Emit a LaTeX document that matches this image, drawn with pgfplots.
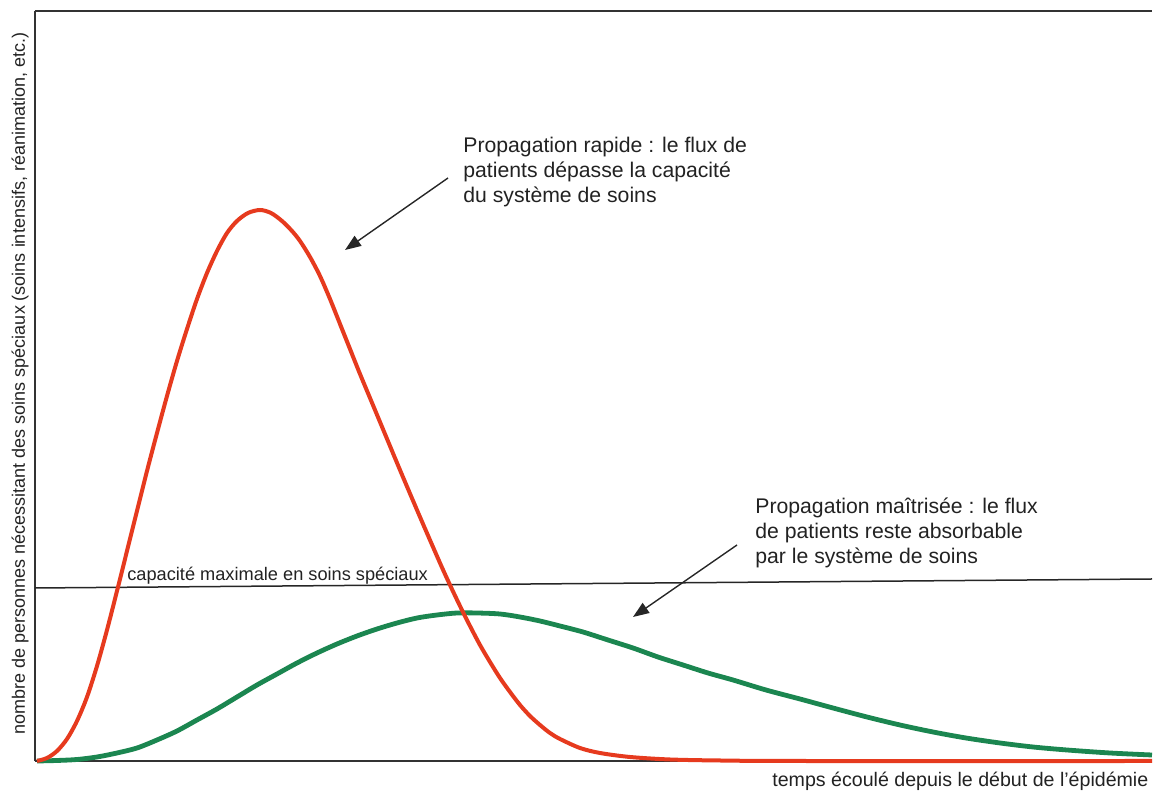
\documentclass[border=0pt]{standalone}
\usepackage{fontspec}
\setmainfont{Liberation Sans}
\usepackage{pgfplots}
\pgfplotsset{compat=1.18}
\usetikzlibrary{arrows.meta}
\definecolor{rapide}{HTML}{E63A1E}
\definecolor{maitrise}{HTML}{1B8650}
\definecolor{txt}{HTML}{222222}
\begin{document}
\begin{tikzpicture}
\useasboundingbox (-17.5pt,-15.5pt) rectangle (559pt,380.5pt);
\begin{axis}[
  at={(0,0)}, anchor=south west,
  scale only axis, width=558.5pt, height=375pt,
  xmin=35, xmax=1152, ymin=0, ymax=750,
  axis x line=box, axis y line=left,
  axis line style={-, line width=1pt, draw=black!80},
  ticks=none,
  clip=false,
]
% capacite maximale
\addplot[black!85, line width=0.75pt] coordinates {(35,173) (1152,182)};

% propagation maitrisee
\addplot[maitrise, line width=2.4pt, smooth] coordinates {
  (37,0) (57,0.5) (77,1.5) (97,4) (117,8) (137,13) (157,21) (177,30)
  (197,41) (217,52) (237,64) (257,76) (277,87) (297,98) (317,108)
  (337,117) (357,125) (377,132) (397,138) (417,143) (437,146)
  (457,148) (477,148) (500,147) (520,144) (540,140) (560,135)
  (583,129) (608,121) (633,113) (658,104) (683,96) (708,88) (733,81)
  (766,71) (800,62) (833,53) (867,44) (900,36) (933,29) (966,23)
  (1000,18) (1033,14) (1067,11) (1110,8) (1152,6)
};

% propagation rapide
\addplot[rapide, line width=2pt, smooth] coordinates {
  (37,0) (47,3) (57,10) (67,22) (77,40) (87,64) (97,95) (107,131)
  (117,170) (127,210) (137,250) (147,290) (157,328) (167,365)
  (177,400) (187,432) (197,462) (207,488) (217,510) (227,528)
  (237,540) (248,548) (260,551) (271,548) (282,540) (292,530)
  (300,520) (310,504) (320,485) (330,462) (340,437) (350,412)
  (360,387) (370,363) (380,339) (400,291) (420,244) (440,198) (450,176)
  (460,155) (470,135) (480,116) (490,99) (500,83) (510,69) (520,56)
  (530,45) (540,36) (550,28) (560,22) (580,13) (600,8) (630,4)
  (670,1.5) (720,0.5) (800,0) (1152,0)
};

\node[anchor=north west, align=left, inner sep=0pt, text=txt,
  font=\fontsize{10.6}{12.5}\selectfont] at (axis cs:463,624)
  {Propagation rapide : le flux de\\patients dépasse la capacité\\du système de soins};
\node[anchor=north west, align=left, inner sep=0pt, text=txt,
  font=\fontsize{10.6}{12.5}\selectfont] at (axis cs:755,263.5)
  {Propagation maîtrisée : le flux\\de patients reste absorbable\\par le système de soins};
\node[anchor=base west, inner sep=0pt, text=txt,
  font=\fontsize{9.1}{11}\selectfont] at (axis cs:127,180)
  {capacité maximale en soins spéciaux};
\node[anchor=base west, inner sep=0pt, text=txt,
  font=\fontsize{9.8}{12}\selectfont] at (axis cs:772,-26)
  {temps écoulé depuis le début de l’épidémie};
\node[anchor=base, rotate=90, inner sep=0pt, text=txt,
  font=\fontsize{9}{11}\selectfont] at (axis cs:25,377.5)
  {nombre de personnes nécessitant des soins spéciaux (soins intensifs, réanimation, etc.)};

\draw[-{Triangle[length=8pt,width=6pt]}, line width=0.7pt, black!85]
  (axis cs:448,583) -- (axis cs:345,511);
\draw[-{Triangle[length=8pt,width=6pt]}, line width=0.7pt, black!85]
  (axis cs:737,216) -- (axis cs:633,144);
\end{axis}
\end{tikzpicture}
\end{document}
